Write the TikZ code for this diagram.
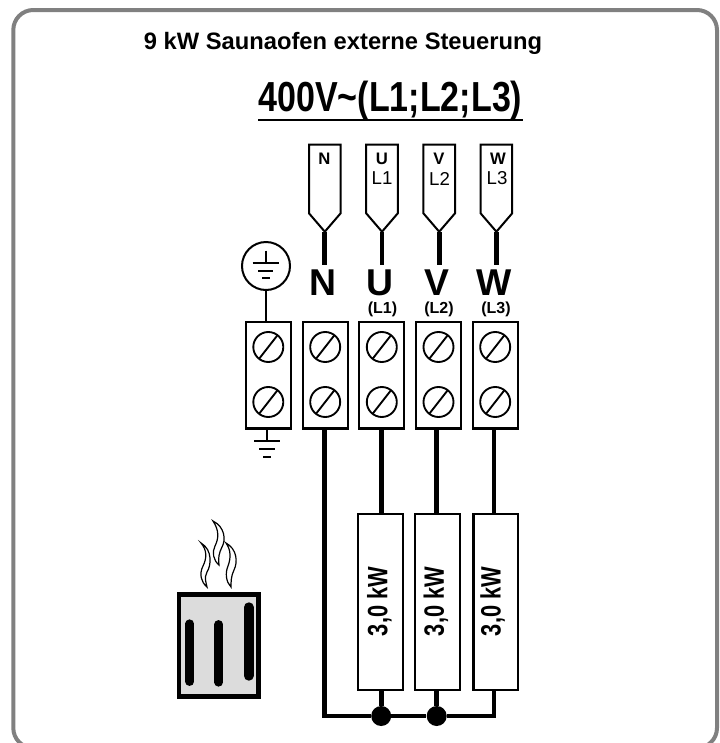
\documentclass[tikz,border=0pt]{standalone}
\usepackage{fontspec}
\setmainfont{Liberation Sans}
\usepackage{tikz}

\definecolor{framegray}{HTML}{808080}
\definecolor{heatgray}{HTML}{DCDCDC}

\tikzset{
    frameline/.style={draw=framegray, line width=3pt, rounded corners=15pt},
    thinline/.style={draw, line width=1.5pt},
    wire/.style={draw, line width=3.5pt},
    plugline/.style={draw, line width=1.5pt, line join=miter},
    plugtop/.style={inner sep=0pt, font=\bfseries\fontsize{12.5}{12.5}\selectfont},
    plugsub/.style={inner sep=0pt, font=\fontsize{14}{14}\selectfont},
    phase/.style={inner sep=3.5pt, font=\bfseries\fontsize{28}{28}\selectfont},
    phasesub/.style={inner sep=0pt, font=\bfseries\fontsize{12}{12}\selectfont},
    terminal/.style={draw, line width=1.6pt, minimum width=33.75pt, minimum height=80pt, inner sep=0pt},
    screw/.style={circle, draw, line width=1.4pt, minimum size=22.5pt, inner sep=0pt,
        path picture={\draw[line width=1.4pt] (path picture bounding box.center) +(-52:17) -- +(128:17);}},
    earthring/.style={circle, draw, line width=1.5pt, minimum size=36pt, inner sep=0pt},
    loadbox/.style={draw, line width=1.6pt, minimum width=33.5pt, minimum height=132pt, inner sep=0pt},
    loadtext/.style={rotate=90, inner sep=0pt, font=\bfseries\fontsize{21}{21}\selectfont},
    joint/.style={circle, fill, minimum size=15pt, inner sep=0pt},
    heaterbar/.style={draw, line width=6.5pt, line cap=round},
    steam/.style={draw, line width=.9pt, fill=white}
}

\begin{document}
\begin{tikzpicture}[x=.75pt, y=-.75pt]
        \path[use as bounding box, clip] (0, 0) rectangle (719, 743);
        \draw[frameline] (13.3, 10) rectangle (717, 748);

        \node[inner sep=0pt, font=\bfseries\fontsize{17.8}{17.8}\selectfont] (title) at (343, 43) {9 kW Saunaofen externe Steuerung};
        \node[inner sep=0pt, font=\bfseries\fontsize{31.5}{31.5}\selectfont] (supply) at (390.4, 101) {\scalebox{.81}[1]{400V\textasciitilde(L1;L2;L3)}};
        \draw[thinline] (258, 119.5) -- (522.7, 119.5);

        \draw[plugline] (309, 144.7) -- ++(31.6, 0) -- ++(0, 68.6) -- ++(-15.8, 18.4) -- ++(-15.8, -18.4) -- cycle;
        \draw[plugline] (366.2, 144.7) -- ++(31.6, 0) -- ++(0, 68.6) -- ++(-15.8, 18.4) -- ++(-15.8, -18.4) -- cycle;
        \draw[plugline] (423.4, 144.7) -- ++(31.6, 0) -- ++(0, 68.6) -- ++(-15.8, 18.4) -- ++(-15.8, -18.4) -- cycle;
        \draw[plugline] (480.6, 144.7) -- ++(31.6, 0) -- ++(0, 68.6) -- ++(-15.8, 18.4) -- ++(-15.8, -18.4) -- cycle;
        \coordinate (tipN) at (324.8, 231.7);
        \coordinate (tipU) at (382, 231.7);
        \coordinate (tipV) at (439.2, 231.7);
        \coordinate (tipW) at (496.4, 231.7);

        \node[plugtop] (plugN) at (324.5, 159) {N};
        \node[plugtop] (plugU) at (382, 159) {U};
        \node[plugtop] (plugV) at (439, 159) {V};
        \node[plugtop] (plugW) at (498, 159) {W};
        \node[plugsub] (subU) at (382, 178.5) {L1};
        \node[plugsub] (subV) at (439.5, 178.5) {L2};
        \node[plugsub] (subW) at (497, 178.5) {L3};

        \node[phase] (phaseN) at (322.7, 282.7) {N};
        \node[phase] (phaseU) at (380, 282.7) {U};
        \node[phase] (phaseV) at (437.3, 282.7) {V};
        \node[phase] (phaseW) at (494.3, 282.7) {W};
        \node[phasesub] (noteU) at (382.5, 309) {(L1)};
        \node[phasesub] (noteV) at (439, 309) {(L2)};
        \node[phasesub] (noteW) at (496, 309) {(L3)};

        \draw[wire] (tipN) -- (tipN |- phaseN.north);
        \draw[wire] (tipU) -- (tipU |- phaseU.north);
        \draw[wire] (tipV) -- (tipV |- phaseV.north);
        \draw[wire] (tipW) -- (tipW |- phaseW.north);

        \node[terminal] (blockE) at (268.3, 375.2) {};
        \node[terminal] (blockN) at (325.2, 375.2) {};
        \node[terminal] (blockU) at (381.8, 375.2) {};
        \node[terminal] (blockV) at (438.5, 375.2) {};
        \node[terminal] (blockW) at (495.2, 375.2) {};

        \node[screw] (screwE1) at (268.3, 347) {};
        \node[screw] (screwE2) at (268.3, 402) {};
        \node[screw] (screwN1) at (325.2, 347) {};
        \node[screw] (screwN2) at (325.2, 402) {};
        \node[screw] (screwU1) at (381.8, 347) {};
        \node[screw] (screwU2) at (381.8, 402) {};
        \node[screw] (screwV1) at (438.5, 347) {};
        \node[screw] (screwV2) at (438.5, 402) {};
        \node[screw] (screwW1) at (495.2, 347) {};
        \node[screw] (screwW2) at (495.2, 402) {};

        \node[earthring] (ring) at (266, 266) {};
        \draw[thinline] (ring.south) -- (ring.south |- blockE.north);
        \draw[thinline] (266, 250.7) -- (266, 262.7);
        \draw[thinline] (252.7, 262.7) -- (279, 262.7);
        \draw[thinline] (258, 271) -- (273, 271);
        \draw[thinline] (262, 278) -- (270, 278);

        \coordinate (ground) at (266.7, 441);
        \draw[thinline] (ground |- blockE.south) -- (ground);
        \draw[thinline] (254.3, 441) -- (280, 441);
        \draw[thinline] (259.3, 449.3) -- (275, 449.3);
        \draw[thinline] (263, 456.7) -- (270.7, 456.7);

        \node[loadbox] (loadU) at (380.5, 602) {};
        \node[loadbox] (loadV) at (437.5, 602) {};
        \node[loadbox] (loadW) at (495.8, 602) {};
        \node[loadtext] (textU) at (379.3, 601.5) {\scalebox{.78}[1]{3,0 kW}};
        \node[loadtext] (textV) at (436, 601.5) {\scalebox{.78}[1]{3,0 kW}};
        \node[loadtext] (textW) at (492.7, 601.5) {\scalebox{.78}[1]{3,0 kW}};

        \node[joint] (jointU) at (381.2, 716) {};
        \node[joint] (jointV) at (436.7, 716) {};
        \coordinate (cornerN) at (324.7, 716);
        \coordinate (cornerW) at (494, 716);

        \draw[wire] (cornerN |- blockN.south) -- (cornerN) -- (jointU) -- (jointV) -- (cornerW) -- (cornerW |- loadW.south);
        \draw[wire] (jointU |- blockU.south) -- (jointU |- loadU.north);
        \draw[wire] (jointV |- blockV.south) -- (jointV |- loadV.north);
        \draw[wire] (cornerW |- blockW.south) -- (cornerW |- loadW.north);
        \draw[wire] (jointU |- loadU.south) -- (jointU);
        \draw[wire] (jointV |- loadV.south) -- (jointV);

        \draw[line width=3.5pt, fill=heatgray] (179, 594.7) rectangle (258.7, 696.7);
        \draw[heaterbar] (189.7, 623.7) -- (189.7, 681.6);
        \draw[heaterbar] (218.7, 624.4) -- (218.7, 682.3);
        \draw[heaterbar, line width=7.5pt] (248.7, 607.3) -- (248.7, 675.7);

        \draw[steam] (201, 543) .. controls (213, 550) and (211, 566) .. (207, 572) .. controls (204, 578) and (206, 582) .. (207, 587) .. controls (201, 582) and (199, 574) .. (203, 566) .. controls (207, 558) and (207, 550) .. (201, 543) -- cycle;
        \draw[steam] (213, 521) .. controls (225, 527) and (226, 540) .. (222, 547) .. controls (219, 553) and (218, 558) .. (219, 565) .. controls (213, 560) and (212, 552) .. (215, 546) .. controls (219, 538) and (219, 530) .. (213, 521) -- cycle;
        \draw[steam] (226, 543) .. controls (237, 549) and (238, 562) .. (234, 570) .. controls (231, 576) and (231, 582) .. (231, 587) .. controls (226, 582) and (225, 573) .. (228, 566) .. controls (231, 558) and (231, 550) .. (226, 543) -- cycle;
    \end{tikzpicture}
\end{document}
